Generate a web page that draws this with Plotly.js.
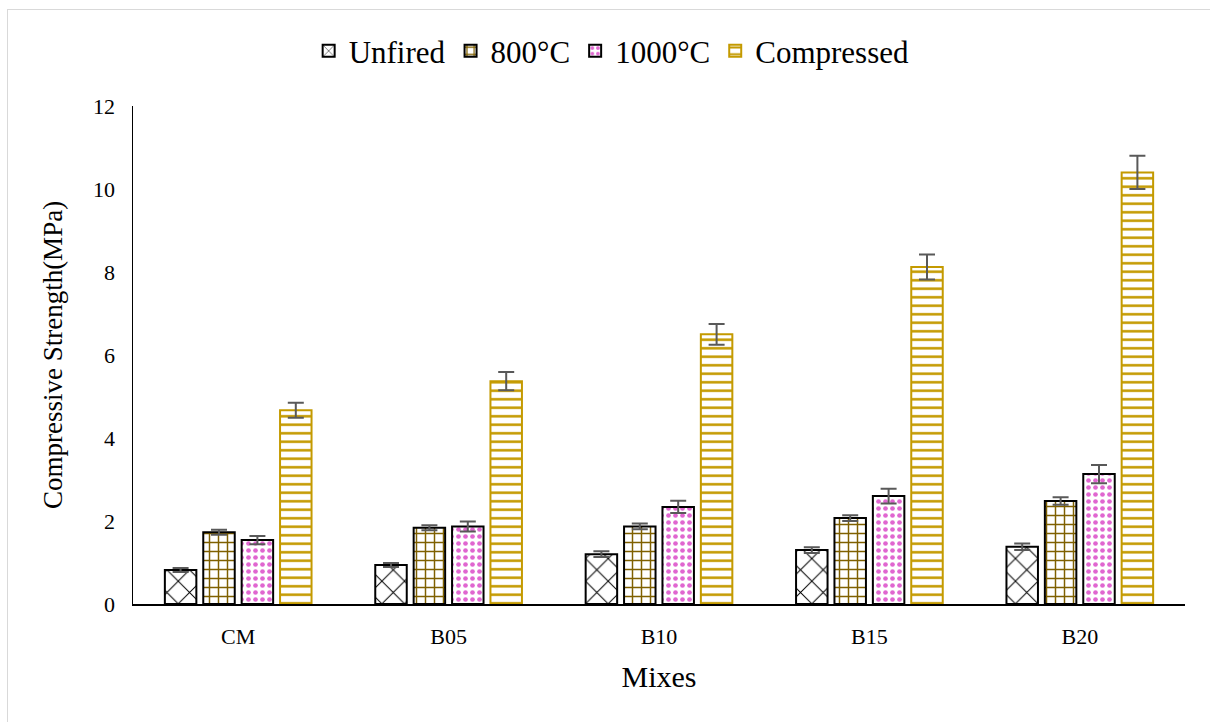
<!DOCTYPE html>
<html><head><meta charset="utf-8">
<script src="https://cdn.plot.ly/plotly-3.0.1.min.js"></script>
<style>
html,body{margin:0;padding:0;background:#fff;}
#frame{position:absolute;left:7px;top:9px;width:1210px;height:720px;border:1px solid #d9d9d9;box-sizing:border-box;pointer-events:none;}
#chart{position:absolute;left:0;top:0;width:1210px;height:722px;}
</style></head>
<body>
<div id="chart"></div>
<div id="frame"></div>
<script>
const mixes = ['CM','B05','B10','B15','B20'];
const unfired = [0.82, 0.94, 1.20, 1.30, 1.38];
const unfiredErr = [0.05, 0.05, 0.07, 0.07, 0.08];
const c800 = [1.73, 1.84, 1.87, 2.07, 2.48];
const c800Err = [0.06, 0.06, 0.07, 0.07, 0.09];
const c1000 = [1.54, 1.87, 2.34, 2.60, 3.13];
const c1000Err = [0.10, 0.12, 0.15, 0.18, 0.22];
const compressed = [4.67, 5.37, 6.50, 8.12, 10.40];
const compressedErr = [0.18, 0.22, 0.25, 0.30, 0.40];

const errStyle = (arr) => ({type:'data', array:arr, visible:true, color:'#595959', thickness:2, width:8});

const traces = [
  {type:'bar', name:'Unfired', x:mixes, y:unfired, error_y:errStyle(unfiredErr),
   marker:{color:'#ffffff', line:{color:'#000000', width:2},
     pattern:{shape:'x', fgcolor:'#000000', bgcolor:'#ffffff', size:16, solidity:0.12}}},
  {type:'bar', name:'800°C', x:mixes, y:c800, error_y:errStyle(c800Err),
   marker:{color:'#ffffff', line:{color:'#000000', width:2},
     pattern:{shape:'+', fgcolor:'#7f6000', bgcolor:'#ffffff', size:9, solidity:0.3}}},
  {type:'bar', name:'1000°C', x:mixes, y:c1000, error_y:errStyle(c1000Err),
   marker:{color:'#ffffff', line:{color:'#000000', width:2},
     pattern:{shape:'.', fgcolor:'#e066d0', bgcolor:'#ffffff', size:7, solidity:0.35}}},
  {type:'bar', name:'Compressed', x:mixes, y:compressed, error_y:errStyle(compressedErr),
   marker:{color:'#ffffff', line:{color:'#c49a00', width:2},
     pattern:{shape:'-', fgcolor:'#c49a00', bgcolor:'#ffffff', size:8.5, solidity:0.3}}}
];

const font = 'Liberation Serif';
const layout = {
  width:1210, height:722,
  margin:{l:133, r:25, t:106, b:118, autoexpand:false},
  paper_bgcolor:'rgba(0,0,0,0)', plot_bgcolor:'#ffffff',
  font:{family:font, color:'#000000', size:22},
  barmode:'group', bargap:0.27, bargroupgap:0.18,
  showlegend:true,
  legend:{orientation:'h', x:0.455, xanchor:'center', y:1.11, yanchor:'middle',
          font:{size:31, family:font, color:'#000000'}, traceorder:'normal', itemwidth:30},
  xaxis:{type:'category', showline:true, linecolor:'#000000', linewidth:1.5,
         ticks:'outside', ticklen:12, tickcolor:'rgba(0,0,0,0)', tickfont:{size:22, family:font}, showgrid:false,
         title:{text:'Mixes', font:{size:30, family:font}, standoff:18}},
  yaxis:{range:[0,12], dtick:2, showline:true, linecolor:'#000000', linewidth:1.5,
         ticks:'', tickfont:{size:22, family:font}, showgrid:false, zeroline:false,
         ticklabelstandoff:12,
         title:{text:'Compressive Strength(MPa)', font:{size:27, family:font}, standoff:22}}
};
Plotly.newPlot('chart', traces, layout, {displayModeBar:false, staticPlot:true});
</script>
</body></html>
